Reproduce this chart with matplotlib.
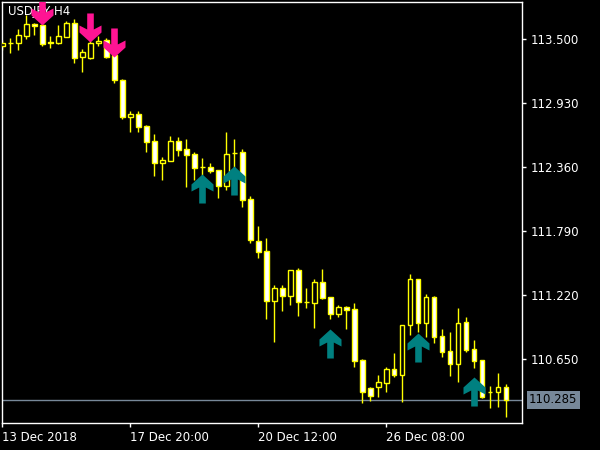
import matplotlib
matplotlib.use("Agg")
import matplotlib.pyplot as plt
from matplotlib.path import Path

# USDJPY H4 candles
opens = [113.438, 113.464, 113.464, 113.527, 113.633, 113.625, 113.473, 113.464, 113.518, 113.642,
         113.340, 113.331, 113.464, 113.491, 113.357, 113.135, 112.805, 112.832, 112.725, 112.591,
         112.396, 112.413, 112.591, 112.520, 112.475, 112.360, 112.360, 112.333, 112.191, 112.484,
         112.493, 112.075, 111.701, 111.612, 111.166, 111.282, 111.211, 111.442, 111.157, 111.149,
         111.336, 111.202, 111.051, 111.113, 111.095, 110.641, 110.391, 110.400, 110.436, 110.561,
         110.507, 110.953, 111.362, 110.971, 111.202, 110.855, 110.721, 110.605, 110.980, 110.739,
         110.641, 110.356, 110.356, 110.400]
highs = [113.491, 113.509, 113.589, 113.713, 113.642, 113.669, 113.527, 113.625, 113.660, 113.678,
         113.411, 113.491, 113.527, 113.509, 113.384, 113.144, 112.858, 112.858, 112.734, 112.654,
         112.449, 112.636, 112.627, 112.609, 112.493, 112.440, 112.396, 112.336, 112.672, 112.609,
         112.520, 112.102, 111.835, 111.728, 111.309, 111.309, 111.445, 111.460, 111.282, 111.362,
         111.451, 111.205, 111.131, 111.122, 111.149, 110.650, 110.400, 110.507, 110.579, 110.703,
         110.953, 111.407, 111.365, 111.229, 111.211, 110.917, 110.890, 111.104, 111.024, 110.819,
         110.644, 110.409, 110.525, 110.427]
lows = [113.402, 113.375, 113.402, 113.500, 113.536, 113.438, 113.420, 113.455, 113.515, 113.286,
        113.206, 113.322, 113.438, 113.331, 113.108, 112.787, 112.672, 112.672, 112.493, 112.280,
        112.244, 112.410, 112.458, 112.182, 112.244, 112.289, 112.306, 112.084, 112.155, 112.289,
        112.004, 111.683, 111.549, 111.006, 110.801, 111.077, 111.131, 111.033, 111.104, 110.926,
        111.184, 111.006, 111.024, 110.917, 110.579, 110.258, 110.276, 110.311, 110.356, 110.490,
        110.267, 110.864, 110.890, 110.846, 110.792, 110.668, 110.499, 110.445, 110.712, 110.570,
        110.305, 110.213, 110.222, 110.133]
closes = [113.464, 113.462, 113.536, 113.633, 113.616, 113.455, 113.464, 113.527, 113.642, 113.331,
          113.384, 113.464, 113.482, 113.340, 113.135, 112.805, 112.832, 112.716, 112.582, 112.396,
          112.422, 112.591, 112.511, 112.467, 112.351, 112.358, 112.324, 112.191, 112.475, 112.482,
          112.066, 111.710, 111.603, 111.166, 111.282, 111.211, 111.442, 111.157, 111.155, 111.336,
          111.193, 111.051, 111.113, 111.087, 110.632, 110.356, 110.320, 110.445, 110.561, 110.507,
          110.950, 111.362, 110.971, 111.202, 110.846, 110.712, 110.605, 110.971, 110.730, 110.632,
          110.311, 110.354, 110.400, 110.285]

# signal arrows: bar index and price at the arrow tip
sell_idx = [5, 11, 14]
sell_price = [113.625, 113.473, 113.340]
buy_idx = [25, 29, 41, 52, 59]
buy_price = [112.297, 112.369, 110.917, 110.881, 110.490]

price_ticks = [113.500, 112.930, 112.360, 111.790, 111.220, 110.650]
date_pos = [0, 16, 32, 48]
date_labels = ["13 Dec 2018", "17 Dec 20:00", "20 Dec 12:00", "26 Dec 08:00"]
last_price = 110.285

YELLOW = "#FFFF00"
GRID_GRAY = "#778899"

# thick arrow (wingdings style), tip at the origin
up_verts = [(0, 0), (11, -10), (11, -17), (3.3, -13), (3.3, -29), (-3.3, -29),
            (-3.3, -13), (-11, -17), (-11, -10), (0, 0)]
up_arrow = Path(up_verts, closed=True)
down_arrow = Path([(x, -y) for x, y in up_verts], closed=True)

fig = plt.figure(figsize=(6, 4.5), dpi=100, facecolor="black")
ax = fig.add_axes([2 / 600, 27 / 450, 520 / 600, 421 / 450])
ax.set_facecolor("black")

idx = list(range(len(opens)))
ax.vlines(idx, lows, highs, color=YELLOW, lw=1, zorder=2)
fills = ["white" if c < o else "black" for o, c in zip(opens, closes)]
heights = [c - o for o, c in zip(opens, closes)]
ax.bar(idx, heights, bottom=opens, width=0.6, color=fills, edgecolor=YELLOW,
       linewidth=1, zorder=3)

ax.axhline(last_price, color=GRID_GRAY, lw=1, zorder=1)

ax.text(0.011, 0.992, "USDJPY,H4", transform=ax.transAxes, color="white",
        fontsize=8.5, ha="left", va="top", zorder=4)

ax.plot(sell_idx, sell_price, ls="none", marker=down_arrow, markersize=41.8,
        color="#FF1493", markeredgewidth=0, zorder=5)
ax.plot(buy_idx, buy_price, ls="none", marker=up_arrow, markersize=41.8,
        color="#008080", markeredgewidth=0, zorder=5)

ax.set_xlim(-0.05, 65)
ax.set_ylim(110.080, 113.830)

for s in ax.spines.values():
    s.set_color("white")
    s.set_linewidth(1)

ax.yaxis.tick_right()
ax.set_yticks(price_ticks)
ax.set_yticklabels([f"{p:.3f}" for p in price_ticks])
ax.set_xticks(date_pos)
ax.set_xticklabels(date_labels, ha="left")
ax.tick_params(axis="both", colors="white", labelsize=8.5, length=3, width=1,
               direction="out")
ax.tick_params(axis="y", pad=3)
ax.tick_params(axis="x", pad=3)

ax.annotate(f"{last_price:.3f}", xy=(1, last_price), xycoords=("axes fraction", "data"),
            xytext=(7, 0), textcoords="offset pixels", ha="left", va="center",
            fontsize=8.5, color="black", annotation_clip=False,
            bbox=dict(boxstyle="square,pad=0.2", facecolor=GRID_GRAY, edgecolor="none"))

fig.savefig("out.png", dpi=100, facecolor="black")
